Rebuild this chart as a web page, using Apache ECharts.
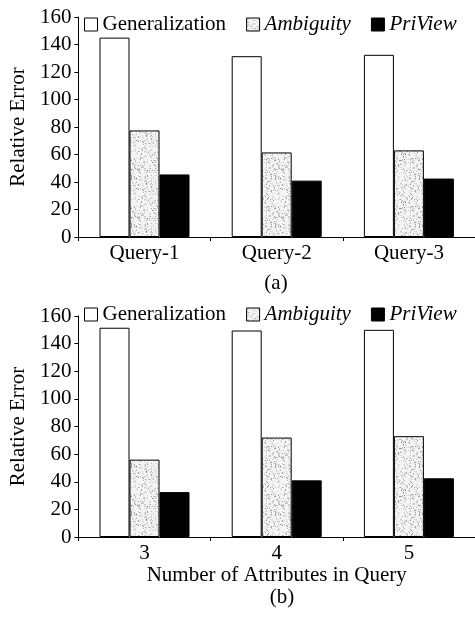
<!DOCTYPE html>
<html>
<head>
<meta charset="utf-8">
<script src="https://cdn.jsdelivr.net/npm/echarts@6/dist/echarts.min.js"></script>
<style>
html,body{margin:0;padding:0;background:#fff;}
#chart{width:475px;height:621px;}
</style>
</head>
<body>
<div id="chart"></div>
<script>
// ---- data ----
var seriesNames = ['Generalization', 'Ambiguity', 'PriView'];
var categoriesA = ['Query-1', 'Query-2', 'Query-3'];
var categoriesB = ['3', '4', '5'];
var generalizationA = [145, 131.5, 132.5];
var ambiguityA = [77.5, 61.5, 63];
var priviewA = [45.5, 41, 42.5];
var generalizationB = [151.5, 149.5, 150];
var ambiguityB = [56, 72, 73];
var priviewB = [32.5, 41, 42.5];
var yTicks = [0, 20, 40, 60, 80, 100, 120, 140, 160];
var yName = 'Relative Error';
var xNameB = 'Number of Attributes in Query';
var captions = ['(a)', '(b)'];

// ---- stipple texture ----
function makeStipple() {
  var c = document.createElement('canvas');
  c.width = 48; c.height = 48;
  var g = c.getContext('2d');
  g.fillStyle = '#f4f4f4';
  g.fillRect(0, 0, 48, 48);
  var s = 12345;
  function next() { s = (s * 1103515245 + 12345) & 0x7fffffff; return s / 0x7fffffff; }
  for (var i = 0; i < 48 * 48; i++) {
    var r = next();
    if (r < 0.24) {
      var v = r < 0.04 ? 150 : (r < 0.12 ? 190 : 215);
      g.fillStyle = 'rgb(' + v + ',' + v + ',' + v + ')';
      g.fillRect(i % 48, Math.floor(i / 48), 1, 1);
    }
  }
  return c;
}
var stipple = { image: makeStipple(), repeat: 'repeat' };

var FONT = '"Liberation Serif", "Times New Roman", serif';
var FS = 21;
var colors = ['#ffffff', stipple, '#000000'];

function xAxisCfg(idx, cats, name) {
  return {
    type: 'category', gridIndex: idx, data: cats,
    axisLine: { show: true, lineStyle: { color: '#000', width: 1 } },
    axisTick: { show: true, length: 4, inside: false, lineStyle: { color: '#000' } },
    axisLabel: { color: '#000', fontSize: FS, fontFamily: FONT, margin: 6 },
    name: name || '', nameLocation: 'middle', nameGap: 26,
    nameTextStyle: { color: '#000', fontSize: FS, fontFamily: FONT }
  };
}
function yAxisCfg(idx) {
  return {
    type: 'value', gridIndex: idx, min: yTicks[0], max: yTicks[yTicks.length - 1], interval: yTicks[1] - yTicks[0],
    axisLine: { show: true, lineStyle: { color: '#000', width: 1 } },
    axisTick: { show: true, length: 4, inside: false, lineStyle: { color: '#000' } },
    splitLine: { show: false },
    axisLabel: { color: '#000', fontSize: FS, fontFamily: FONT, margin: 7 },
    name: yName, nameLocation: 'middle', nameGap: 45, nameRotate: 90,
    nameTextStyle: { color: '#000', fontSize: FS, fontFamily: FONT }
  };
}
function barSeries(name, xi, data, ci) {
  return {
    type: 'bar', name: name, xAxisIndex: xi, yAxisIndex: xi, data: data,
    barWidth: 30, barGap: '0%',
    itemStyle: { color: colors[ci], borderColor: '#000', borderWidth: 1 },
    emphasis: { disabled: true }, animation: false
  };
}
function legendCfg(top) {
  return {
    left: 84, top: top, itemWidth: 13, itemHeight: 13, itemGap: 20, padding: 0,
    icon: 'rect',
    itemStyle: { borderColor: '#000', borderWidth: 1 },
    textStyle: { color: '#000', fontSize: FS, fontFamily: FONT },
    data: [
      { name: seriesNames[0] },
      { name: seriesNames[1], textStyle: { fontStyle: 'italic' } },
      { name: seriesNames[2], textStyle: { fontStyle: 'italic' } }
    ]
  };
}

var chart = echarts.init(document.getElementById('chart'), null, { renderer: 'canvas' });
chart.setOption({
  backgroundColor: '#fff',
  animation: false,
  title: [
    { text: captions[0], left: 276, top: 273, textAlign: 'center', padding: 0,
      textStyle: { color: '#000', fontSize: FS, fontWeight: 'normal', fontFamily: FONT } },
    { text: captions[1], left: 282, top: 587, textAlign: 'center', padding: 0,
      textStyle: { color: '#000', fontSize: FS, fontWeight: 'normal', fontFamily: FONT } }
  ],
  legend: [legendCfg(14), legendCfg(304)],
  grid: [
    { left: 77, top: 17, width: 400, height: 220 },
    { left: 77, top: 316, width: 400, height: 221 }
  ],
  xAxis: [xAxisCfg(0, categoriesA), xAxisCfg(1, categoriesB, xNameB)],
  yAxis: [yAxisCfg(0), yAxisCfg(1)],
  series: [
    barSeries(seriesNames[0], 0, generalizationA, 0),
    barSeries(seriesNames[1], 0, ambiguityA, 1),
    barSeries(seriesNames[2], 0, priviewA, 2),
    barSeries(seriesNames[0], 1, generalizationB, 0),
    barSeries(seriesNames[1], 1, ambiguityB, 1),
    barSeries(seriesNames[2], 1, priviewB, 2)
  ]
});
</script>
</body>
</html>
